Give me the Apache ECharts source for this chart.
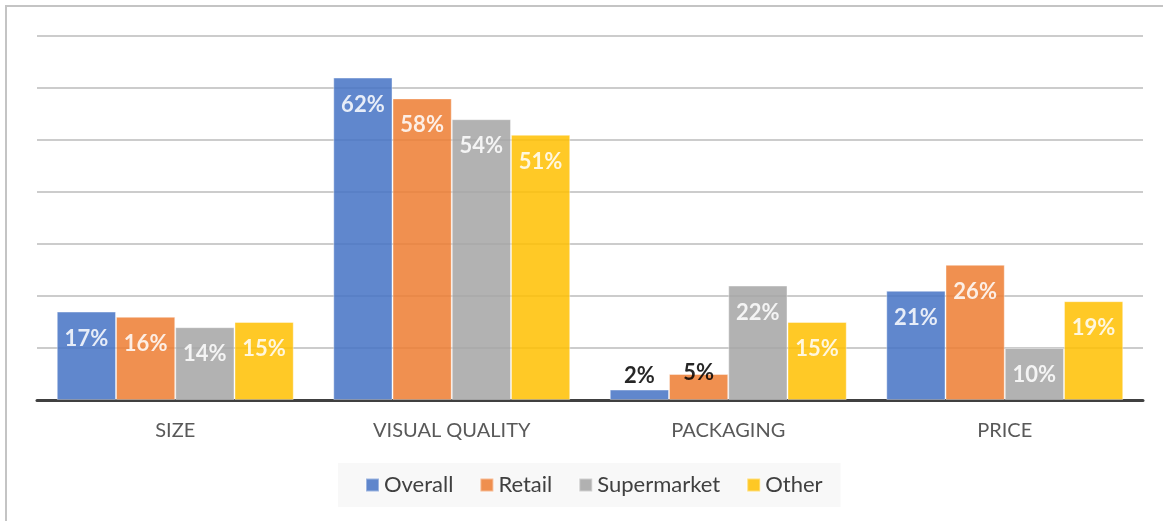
<!DOCTYPE html>
<html>
<head>
<meta charset="utf-8">
<script src="https://cdn.jsdelivr.net/npm/echarts@6/dist/echarts.min.js"></script>
<style>
  html, body { margin: 0; padding: 0; background: #ffffff; }
  #chart { width: 1163px; height: 521px; }
</style>
</head>
<body>
<div id="chart"></div>
<script>
// Share of respondents citing each attribute, by shopper group (%)
const categories = ['SIZE', 'VISUAL QUALITY', 'PACKAGING', 'PRICE'];
const seriesNames = ['Overall', 'Retail', 'Supermarket', 'Other'];
const overall = [17, 62, 2, 21];
const retail = [16, 58, 5, 26];
const supermarket = [14, 54, 22, 10];
const other = [15, 51, 15, 19];
const colors = ['#4472C4', '#ED7D31', '#A5A5A5', '#FFC000'];

const FONT = 'Lato, "Open Sans", sans-serif';

// Bars too short to hold their label get a dark label above instead
function toData(values) {
  return values.map(v => {
    if (v >= 8) return { value: v };
    return {
      value: v,
      label: {
        position: 'top',
        color: '#000000',
        distance: v < 4 ? 3 : 0,
        offset: v < 4 ? [0, 0] : [0, 10]
      }
    };
  });
}

const seriesValues = [overall, retail, supermarket, other];

const chart = echarts.init(document.getElementById('chart'), null, { renderer: 'canvas' });

chart.setOption({
  animation: false,
  backgroundColor: '#ffffff',
  textStyle: { fontFamily: FONT },
  graphic: [{
    type: 'rect',
    shape: { x: 6, y: 6, width: 1200, height: 600 },
    style: { fill: 'none', stroke: '#c4c4c4', lineWidth: 2 },
    silent: true,
    z: -1
  }],
  grid: { left: 37, right: 20, top: 36, bottom: 121 },
  legend: {
    data: seriesNames,
    left: 338,
    top: 463,
    backgroundColor: '#f8f8f8',
    padding: [11, 18, 11, 27],
    itemWidth: 13,
    itemHeight: 13,
    itemGap: 26,
    icon: 'rect',
    textStyle: { fontSize: 22, color: '#404040', fontFamily: FONT }
  },
  xAxis: {
    type: 'category',
    data: categories,
    axisLine: { show: true, lineStyle: { color: '#404040', width: 3 } },
    axisTick: { show: false },
    axisLabel: { fontSize: 20, color: '#595959', margin: 21, fontFamily: FONT }
  },
  yAxis: {
    type: 'value',
    min: 0,
    max: 70,
    interval: 10,
    axisLine: { show: false },
    axisTick: { show: false },
    axisLabel: { show: false },
    splitLine: { show: true, lineStyle: { color: '#cccccc', width: 2 } }
  },
  series: seriesNames.map((name, i) => ({
    name: name,
    type: 'bar',
    data: toData(seriesValues[i]),
    barGap: '0%',
    barCategoryGap: '14.3%',
    itemStyle: {
      color: colors[i],
      opacity: 0.85,
      borderColor: 'rgba(255,255,255,0.45)',
      borderWidth: 1
    },
    label: {
      show: true,
      position: 'insideTop',
      distance: 16,
      formatter: '{c}%',
      color: '#ffffff',
      fontSize: 22,
      fontWeight: 'bold',
      fontFamily: FONT
    }
  }))
});
</script>
</body>
</html>
